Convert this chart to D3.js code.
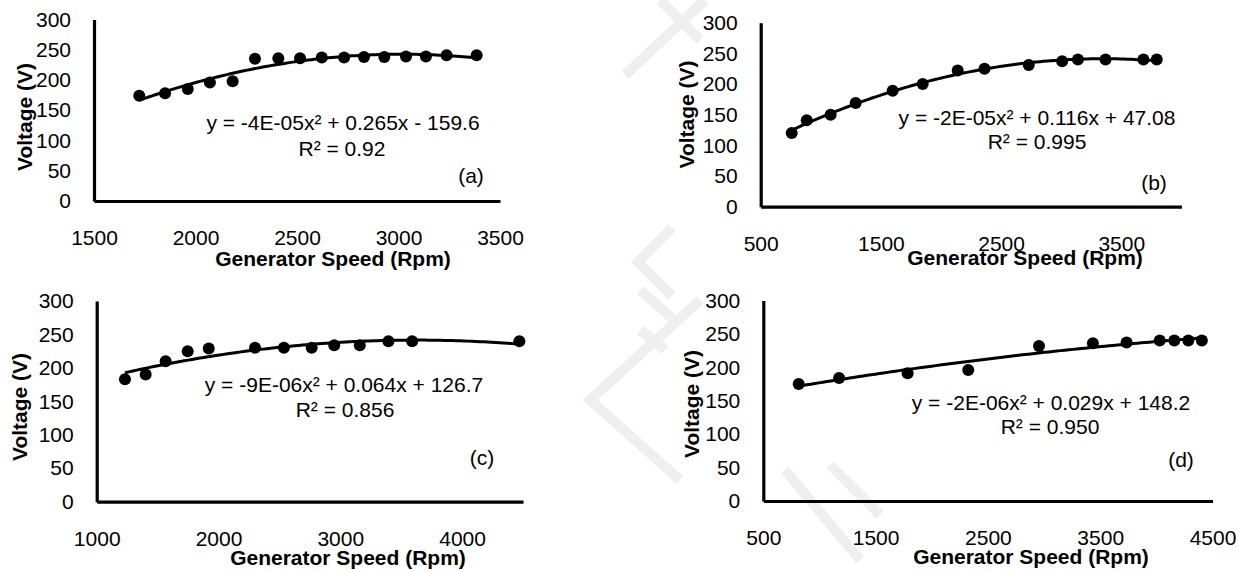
<!DOCTYPE html>
<html>
<head>
<meta charset="utf-8">
<script src="https://cdn.jsdelivr.net/npm/d3@7/dist/d3.min.js"></script>
<style>
  body { margin: 0; background: #fff; }
  text { font-family: "Liberation Sans", Arial, sans-serif; fill: #000; }
</style>
</head>
<body>
<svg id="chart" width="1239" height="572"></svg>
<script>
// values (speed in rpm, voltage in V)
var speedA = [1723, 1850, 1962, 2071, 2183, 2293, 2408, 2515, 2622, 2732, 2830, 2930, 3037, 3135, 3237, 3385];
var voltA  = [174, 178, 185, 196, 198, 235, 236, 236, 237, 237, 238, 238, 239, 239, 241, 241];

var speedB = [758, 883, 1082, 1290, 1598, 1848, 2139, 2362, 2730, 3008, 3139, 3369, 3684, 3795];
var voltB  = [120, 141, 150, 169, 189, 200, 222, 225, 231, 237, 240, 240, 240, 240];

var speedC = [1232, 1402, 1566, 1747, 1920, 2300, 2537, 2765, 2950, 3160, 3395, 3590, 4470];
var voltC  = [183, 190, 210, 225, 229, 230, 230, 230, 234, 234, 240, 240, 240];

var speedD = [815, 1175, 1785, 2325, 2955, 3435, 3735, 4030, 4160, 4285, 4405];
var voltD  = [175, 184, 191, 196, 232, 236, 237, 240, 240, 240, 240];

var voltTicks = [0, 50, 100, 150, 200, 250, 300];
var ticksA = [1500, 2000, 2500, 3000, 3500];
var ticksB = [500, 1500, 2500, 3500];
var ticksC = [1000, 2000, 3000, 4000];
var ticksD = [500, 1500, 2500, 3500, 4500];

var domainA = [1500, 3500], domainB = [500, 4000], domainC = [1000, 4500], domainD = [500, 4500];

var eqA = "y = -4E-05x² + 0.265x - 159.6", r2A = "R² = 0.92";
var eqB = "y = -2E-05x² + 0.116x + 47.08", r2B = "R² = 0.995";
var eqC = "y = -9E-06x² + 0.064x + 126.7", r2C = "R² = 0.856";
var eqD = "y = -2E-06x² + 0.029x + 148.2", r2D = "R² = 0.950";

var xTitle = "Generator Speed (Rpm)";
var yTitle = "Voltage (V)";

// where each panel sits on the page
var layout = [
  {left: 94,    right: 500,    top: 19.5,  bottom: 201,   xt: [333, 259],  yt: [25, 117],    eq: [343, 123],  r2: [342, 149],  tag: [471, 176]},
  {left: 760.7, right: 1181.4, top: 22.7,  bottom: 206.7, xt: [1025, 258], yt: [686.7, 114.5], eq: [1037, 118], r2: [1037, 142], tag: [1154, 183]},
  {left: 96.7,  right: 523,    top: 301,   bottom: 501.7, xt: [348, 558],  yt: [19.3, 407],  eq: [344, 385],  r2: [345, 410],  tag: [482, 458]},
  {left: 763.3, right: 1212.5, top: 300.5, bottom: 501,   xt: [1031, 557], yt: [691.7, 404], eq: [1051, 403], r2: [1050, 427], tag: [1181, 460]}
];

var panels = [
  {speed: speedA, volt: voltA, ticks: ticksA, domain: domainA, eq: eqA, r2: r2A, tag: "(a)"},
  {speed: speedB, volt: voltB, ticks: ticksB, domain: domainB, eq: eqB, r2: r2B, tag: "(b)"},
  {speed: speedC, volt: voltC, ticks: ticksC, domain: domainC, eq: eqC, r2: r2C, tag: "(c)"},
  {speed: speedD, volt: voltD, ticks: ticksD, domain: domainD, eq: eqD, r2: r2D, tag: "(d)"}
];

var fontSize = 21;
var svg = d3.select("#chart");

// very faint watermark strokes behind the charts
var mark = svg.append("g").attr("fill", "none").attr("stroke", "#efefef").attr("stroke-width", 10);
mark.append("path").attr("d", "M705,0 L625,75 M660,0 L700,40");
mark.append("path").attr("d", "M672,228 L638,262 L672,296");
mark.append("path").attr("d", "M640,290 L672,318 M640,330 L665,350 M700,300 L590,400 L680,480");
mark.append("path").attr("d", "M785,470 L860,560 M830,465 L880,515");

// least squares quadratic, same as the Excel trendline
function quadFit(xs, ys) {
  var s = [0, 0, 0, 0, 0], t = [0, 0, 0];
  xs.forEach(function(x, i) {
    var u = x / 1000, p = 1;
    for (var k = 0; k < 5; k++) { s[k] += p; if (k < 3) t[k] += p * ys[i]; p *= u; }
  });
  var m = [[s[0], s[1], s[2], t[0]], [s[1], s[2], s[3], t[1]], [s[2], s[3], s[4], t[2]]];
  for (var c = 0; c < 3; c++) {
    for (var r = c + 1; r < 3; r++) {
      var f = m[r][c] / m[c][c];
      for (var j = c; j < 4; j++) m[r][j] -= f * m[c][j];
    }
  }
  var co = [0, 0, 0];
  for (var r2 = 2; r2 >= 0; r2--) {
    var v = m[r2][3];
    for (var j2 = r2 + 1; j2 < 3; j2++) v -= m[r2][j2] * co[j2];
    co[r2] = v / m[r2][r2];
  }
  return function(x) { var u = x / 1000; return co[0] + co[1] * u + co[2] * u * u; };
}

panels.forEach(function(p, i) {
  var L = layout[i];
  var x = d3.scaleLinear().domain(p.domain).range([L.left, L.right]);
  var y = d3.scaleLinear().domain([0, 300]).range([L.bottom, L.top]);
  var g = svg.append("g");

  var ya = g.append("g")
    .attr("transform", "translate(" + L.left + ",0)")
    .call(d3.axisLeft(y).tickValues(voltTicks).tickSize(0).tickPadding(23));
  var xa = g.append("g")
    .attr("transform", "translate(0," + L.bottom + ")")
    .call(d3.axisBottom(x).tickValues(p.ticks).tickFormat(d3.format("d")).tickSize(0).tickPadding(29));
  [ya, xa].forEach(function(a) {
    a.select(".domain").attr("stroke", "#000").attr("stroke-width", 3.2);
    a.selectAll("text").attr("font-size", fontSize).attr("fill", "#000")
      .attr("font-family", '"Liberation Sans", Arial, sans-serif');
  });

  // trendline
  var fit = quadFit(p.speed, p.volt);
  var lo = d3.min(p.speed), hi = d3.max(p.speed);
  var xs = d3.range(0, 101).map(function(k) { return lo + (hi - lo) * k / 100; });
  g.append("path")
    .datum(xs)
    .attr("fill", "none")
    .attr("stroke", "#000")
    .attr("stroke-width", 3)
    .attr("d", d3.line().x(function(d) { return x(d); }).y(function(d) { return y(fit(d)); }));

  // points
  g.selectAll(".dot")
    .data(p.speed)
    .enter().append("circle")
    .attr("class", "dot")
    .attr("cx", function(d) { return x(d); })
    .attr("cy", function(d, k) { return y(p.volt[k]); })
    .attr("r", 6)
    .attr("fill", "#000");

  // titles and labels
  g.append("text")
    .attr("x", L.xt[0]).attr("y", L.xt[1]).attr("dy", "0.35em")
    .attr("text-anchor", "middle").attr("font-weight", "bold").attr("font-size", fontSize)
    .text(xTitle);
  g.append("text")
    .attr("transform", "translate(" + L.yt[0] + "," + L.yt[1] + ") rotate(-90)")
    .attr("dy", "0.35em")
    .attr("text-anchor", "middle").attr("font-weight", "bold").attr("font-size", fontSize)
    .text(yTitle);
  g.append("text")
    .attr("x", L.eq[0]).attr("y", L.eq[1]).attr("dy", "0.35em")
    .attr("text-anchor", "middle").attr("font-size", fontSize)
    .text(p.eq);
  g.append("text")
    .attr("x", L.r2[0]).attr("y", L.r2[1]).attr("dy", "0.35em")
    .attr("text-anchor", "middle").attr("font-size", fontSize)
    .text(p.r2);
  g.append("text")
    .attr("x", L.tag[0]).attr("y", L.tag[1]).attr("dy", "0.35em")
    .attr("text-anchor", "middle").attr("font-size", fontSize)
    .text(p.tag);
});
</script>
</body>
</html>
